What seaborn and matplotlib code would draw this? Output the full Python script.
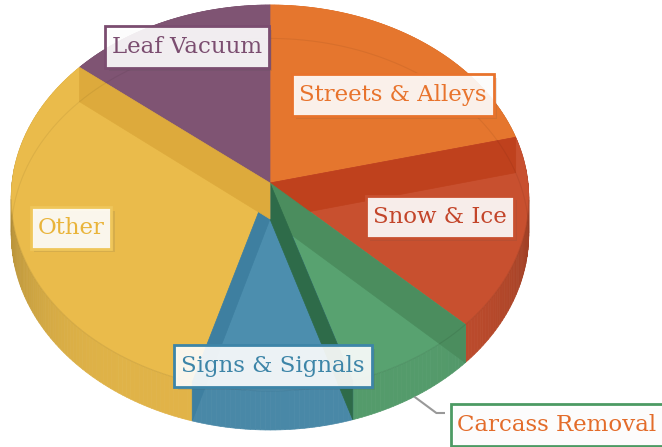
import numpy as np
import matplotlib.pyplot as plt
import matplotlib.colors as mcolors
import matplotlib.patheffects as pe
from matplotlib.patches import Polygon
import seaborn as sns

# slice data, clockwise from 12 o'clock
categories = ['Streets & Alleys', 'Snow & Ice', 'Carcass Removal',
              'Signs & Signals', 'Other', 'Leaf Vacuum']
shares = [21.1, 16.2, 7.9, 9.3, 31.4, 14.1]

slice_colors = ['#E5762E', '#C8502F', '#58A270', '#4C8EAE', '#EABB4B', '#7F5473']
text_colors = ['#E8732C', '#C3452A', '#E36C2A', '#3D85A8', '#E9B43A', '#7B4D70']
border_colors = ['#E8732C', '#C8502F', '#4C9A63', '#3D85A8', '#EFC65A', '#7B4D70']

# label box centres (pixels)
label_pos = [(393, 95), (440, 217), (557, 425), (273, 366), (71, 228), (187, 47)]

sns.set_theme(style='white')
pal = sns.color_palette(slice_colors)

# projection of the tilted disc
CX, CY = 270, 183
RX, RY = 258, 191.8
Q = 0.0777
DEPTH = 36


def top(theta):
    t = np.radians(theta)
    k = 1 + Q * np.cos(t)
    return CX + RX * np.sin(t) / k, CY - RY * np.cos(t) / k


def bottom(theta):
    x, y = top(theta)
    return x, y + DEPTH / (1 + Q * np.cos(np.radians(theta)))


def shade(c, f):
    r, g, b = mcolors.to_rgb(c)
    return (r * f, g * f, b * f)


edges = np.concatenate([[0], np.cumsum(shares)]) / sum(shares) * 360

fig = plt.figure(figsize=(6.62, 4.47), dpi=100)
ax = fig.add_axes([0, 0, 1, 1])
ax.set_xlim(0, 662)
ax.set_ylim(447, 0)
ax.axis('off')

# outer side walls
for i in range(len(shares)):
    s, e = edges[i], edges[i + 1]
    ts = np.linspace(s, e, max(int(e - s), 2) + 1)
    for a, b in zip(ts[:-1], ts[1:]):
        f = 0.96 - 0.17 * abs(np.sin(np.radians((a + b) / 2))) ** 6
        pts = [top(a), top(b), bottom(b), bottom(a)]
        c = shade(pal[i], f)
        ax.add_patch(Polygon(pts, closed=True, fc=c, ec=c, lw=0.5))

# top faces
for i in range(len(shares)):
    ts = np.linspace(edges[i], edges[i + 1], 120)
    pts = [(CX, CY)] + [top(t) for t in ts]
    ax.add_patch(Polygon(pts, closed=True, fc=pal[i], ec=pal[i], lw=0.5))

# faint rim of the bottom face seen through the top
tb = np.linspace(-95, 95, 200)
bx, by = zip(*[bottom(t) for t in tb])
ax.plot(bx, by, color='black', alpha=0.06, lw=0.8)
tf = np.linspace(95, 265, 200)
fx, fy = zip(*[top(t) for t in tf])
ax.plot(fx, fy, color='black', alpha=0.08, lw=0.8)

# inner radial walls showing through
walls = [(1, 'start', '#BF411D'), (2, 'start', '#4B8D5E'), (2, 'end', '#2E6B49'),
         (3, 'end', '#3E7FA0'), (4, 'end', '#DDAA3C')]
for i, side, c in walls:
    phi = edges[i] if side == 'start' else edges[i + 1]
    pts = [(CX, CY), top(phi), bottom(phi), (CX, CY + DEPTH)]
    ax.add_patch(Polygon(pts, closed=True, fc=c, ec=c, lw=0.5))

# connector for the outside label
mid = (edges[2] + edges[3]) / 2
ax0, ay0 = bottom(mid)
lx, ly = label_pos[2]
ax.plot([ax0, ax0 + 22, lx - 112], [ay0, ly - 12, ly - 12], color='#999999', lw=1.5,
        solid_capstyle='butt')

# labels
for i, name in enumerate(categories):
    x, y = label_pos[i]
    t = ax.text(x, y, name, family='DejaVu Serif', fontsize=16.5, color=text_colors[i],
                ha='center', va='center',
                bbox=dict(boxstyle='square,pad=0.3', fc=(1, 1, 1, 0.9),
                          ec=border_colors[i], lw=2, mutation_aspect=1.4))
    t.get_bbox_patch().set_path_effects(
        [pe.SimplePatchShadow(offset=(2.5, -2.5), alpha=0.12), pe.Normal()])

fig.savefig('out.png', dpi=100)
